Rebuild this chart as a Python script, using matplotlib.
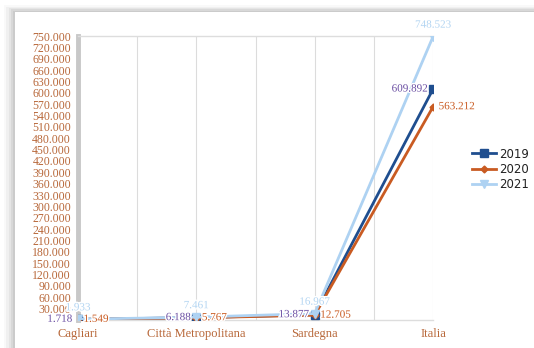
import matplotlib.pyplot as plt
import matplotlib.patheffects as pe
from matplotlib.patches import Rectangle
from matplotlib.ticker import FuncFormatter

categorie = ['Cagliari', 'Città Metropolitana', 'Sardegna', 'Italia']
anni = ['2019', '2020', '2021']
v2019 = [1718, 6188, 13877, 609892]
v2020 = [1549, 5767, 12705, 563212]
v2021 = [1933, 7461, 16967, 748523]
y_ticks = list(range(30000, 750001, 30000))

brown = '#b8683a'


def fmt(v):
    return f"{v:,.0f}".replace(',', '.')


fig = plt.figure(figsize=(5.34, 3.48), dpi=100)
fig.patch.set_facecolor('white')

# card with a soft shadow behind the chart
for i, a in enumerate([0.025, 0.035, 0.045, 0.055, 0.06]):
    d = (5 - i) * 0.004
    fig.patches.append(Rectangle((0.028 - d, -0.1), 1.2, 1.065 + d,
                                 transform=fig.transFigure, facecolor='#000000',
                                 alpha=a, edgecolor='none', zorder=-3))
fig.patches.append(Rectangle((0.028, -0.1), 1.2, 1.065, transform=fig.transFigure,
                             facecolor='white', edgecolor='none', zorder=-2))

ax = fig.add_axes([0.146, 0.0805, 0.665, 0.816])
ax.set_facecolor('none')
x = range(len(categorie))

series = [
    (v2019, '#1f4e8f', 's', 6),
    (v2020, '#c95b22', 'D', 3.5),
    (v2021, '#aed2f2', 'v', 5.5),
]
for (vals, col, mk, ms), lab in zip(series, anni):
    ax.plot(x, vals, color=col, marker=mk, markersize=ms, linewidth=2, label=lab, zorder=3)

outline = [pe.withStroke(linewidth=2, foreground='white')]
for i in x:
    ax.annotate(fmt(v2019[i]), (i, v2019[i]), xytext=(-4, 0), textcoords='offset points',
                ha='right', va='center', fontsize=8, color='#6b4fa3',
                family='Liberation Serif', path_effects=outline, zorder=5,
                annotation_clip=False)
    ax.annotate(fmt(v2020[i]), (i, v2020[i]), xytext=(4, 0), textcoords='offset points',
                ha='left', va='center', fontsize=8, color='#c95b22',
                family='Liberation Serif', path_effects=outline, zorder=5,
                annotation_clip=False)
    ax.annotate(fmt(v2021[i]), (i, v2021[i]), xytext=(0, 5), textcoords='offset points',
                ha='center', va='bottom', fontsize=8, color='#b3d5f2',
                family='Liberation Serif', path_effects=outline, zorder=5,
                annotation_clip=False)

ax.set_xlim(0, 3)
ax.set_ylim(0, 750000)
ax.set_yticks(y_ticks)
ax.yaxis.set_major_formatter(FuncFormatter(lambda v, p: fmt(v)))
ax.set_xticks(list(x))
ax.set_xticklabels(categorie)
ax.set_xticks([0.5, 1.5, 2.5], minor=True)
ax.grid(axis='x', which='both', color='#dcdcdc', linewidth=0.8)
ax.tick_params(axis='both', which='both', length=0, colors=brown)
ax.tick_params(axis='y', labelsize=8.5, pad=5)
ax.tick_params(axis='x', labelsize=9, pad=6)
for t in ax.get_xticklabels() + ax.get_yticklabels():
    t.set_family('Liberation Serif')

for s in ['top', 'bottom']:
    ax.spines[s].set_color('#dddddd')
    ax.spines[s].set_linewidth(1)
ax.spines['right'].set_visible(False)
ax.spines['left'].set_color('#c8c8c8')
ax.spines['left'].set_linewidth(3.5)

leg = ax.legend(loc='center left', bbox_to_anchor=(1.08, 0.53), frameon=False,
                handlelength=2.0, handletextpad=0.3, labelspacing=0.2,
                prop={'family': 'DejaVu Sans', 'size': 8.5})
for t in leg.get_texts():
    t.set_color('#222222')

fig.savefig('out.png', dpi=100)
